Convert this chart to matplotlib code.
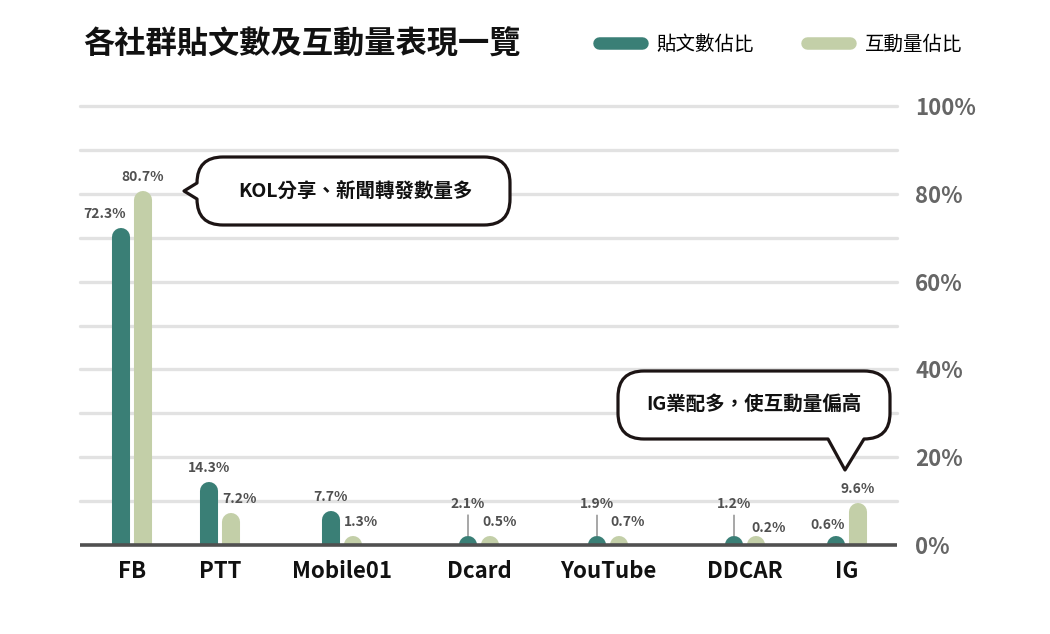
import matplotlib
matplotlib.use("Agg")
import matplotlib.pyplot as plt
from matplotlib.path import Path
from matplotlib.patches import PathPatch
from matplotlib.lines import Line2D

plt.rcParams['font.family'] = ['Noto Sans CJK TC', 'DejaVu Sans']

# data
platforms = ["FB", "PTT", "Mobile01", "Dcard", "YouTube", "DDCAR", "IG"]
post_share = [72.3, 14.3, 7.7, 2.1, 1.9, 1.2, 0.6]        # 貼文數佔比 (%)
engage_share = [80.7, 7.2, 1.3, 0.5, 0.7, 0.2, 9.6]       # 互動量佔比 (%)
series_names = ["貼文數佔比", "互動量佔比"]
title = "各社群貼文數及互動量表現一覽"
note_fb = "KOL分享、新聞轉發數量多"
note_ig = "IG業配多，使互動量偏高"

# layout (group centres are not evenly spaced in the original)
group_pos = [0.0, 0.88, 2.1, 3.47, 4.76, 6.13, 7.15]
pair_off = 0.11
dark = "#3a7f76"
light = "#c3cfa8"
px_per_pct = 4.39          # vertical pixels per 1 %
cap_r = 9 / px_per_pct     # round cap radius in % units

fig = plt.figure(figsize=(10.5, 6.34), dpi=100)
ax = fig.add_axes([80 / 1050, 89 / 634, 817 / 1050, 439 / 634])
ax.set_xlim(-0.52, 7.65)
ax.set_ylim(0, 100)

# grid + baseline
ax.hlines(range(10, 101, 10), -0.52, 7.65, colors="#e2e2e2", lw=2.4,
          capstyle="round", clip_on=False, zorder=1)
ax.hlines(0, -0.52, 7.65, colors="#505050", lw=2.6, clip_on=False, zorder=5)

# per-label offsets in points (dx, dy), leader line flag
dark_lbl = [(-12, 5, False), (0, 5, False), (0, 5, False), (0, 18, True),
            (0, 18, True), (0, 18, True), (-6, 3, False)]
light_lbl = [(0, 5, False), (6, 5, False), (6, 5, False), (7, 5, False),
             (6, 5, False), (9, 1, False), (0, 5, False)]

for vals, off, col, lbls in [(post_share, -pair_off, dark, dark_lbl),
                            (engage_share, pair_off, light, light_lbl)]:
    for x, v, (dx, dy, lead) in zip(group_pos, vals, lbls):
        xx = x + off
        ax.plot([xx, xx], [-1, max(v - cap_r, 0.05)], color=col, lw=13,
                solid_capstyle="round", zorder=3)
        top = max(v, cap_r)
        kw = dict(arrowprops=dict(arrowstyle="-", color="#777777", lw=0.9,
                                  shrinkA=1, shrinkB=0)) if lead else {}
        ax.annotate(f"{v}%", (xx, top), xytext=(dx, dy),
                    textcoords="offset points", ha="center", va="bottom",
                    fontsize=10, color="#505050", fontweight="bold",
                    zorder=6, **kw)

for s in ax.spines.values():
    s.set_visible(False)
ax.set_xticks(group_pos)
ax.set_xticklabels(platforms, fontsize=16, fontweight="bold", color="#111111")
ax.yaxis.tick_right()
ax.set_yticks(range(0, 101, 20))
ax.set_yticklabels([f"{t}%" for t in range(0, 101, 20)], fontsize=16,
                   fontweight="bold", color="#666666")
ax.tick_params(axis="x", length=0, pad=11)
ax.tick_params(axis="y", length=0, pad=13)
ax.patch.set_alpha(0)

# title and legend
fig.text(83 / 1050, 1 - 45 / 634, title, fontsize=22.5, fontweight="bold",
         va="center", ha="left", color="#111111")
handles = [Line2D([0], [0], color=dark, lw=9, solid_capstyle="round"),
           Line2D([0], [0], color=light, lw=9, solid_capstyle="round")]
fig.legend(handles, series_names, loc="center left",
           bbox_to_anchor=(599 / 1050, 1 - 44 / 634), ncol=2, frameon=False,
           fontsize=14, handlelength=2.2, handletextpad=0.77,
           columnspacing=2.73, borderpad=0, borderaxespad=0)

# speech bubbles drawn in pixel space
ov = fig.add_axes([0, 0, 1, 1], zorder=10)
ov.set_xlim(0, 1050)
ov.set_ylim(634, 0)
ov.axis("off")


def bubble(x0, y0, x1, y1, r, tip, side):
    M, L, C, Z = Path.MOVETO, Path.LINETO, Path.CURVE3, Path.CLOSEPOLY
    v = [(x0 + r, y0), (x1 - r, y0), (x1, y0), (x1, y0 + r),
         (x1, y1 - r), (x1, y1), (x1 - r, y1)]
    c = [M, L, C, C, L, C, C]
    if side == "bottom":
        v += [tip, (tip[0] - 17, y1)]
        c += [L, L]
    v += [(x0 + r, y1), (x0, y1), (x0, y1 - r)]
    c += [L, C, C]
    if side == "left":
        v += [tip]
        c += [L]
    v += [(x0, y0 + r), (x0, y0), (x0 + r, y0), (x0 + r, y0)]
    c += [L, C, C, Z]
    ov.add_patch(PathPatch(Path(v, c), facecolor="white", edgecolor="#1c1414",
                           lw=2.3, joinstyle="round"))


bubble(197, 157, 510, 225, 26, (184, 191), "left")
ov.text(355, 191, note_fb, ha="center", va="center", fontsize=14,
        fontweight="bold", color="#111111")
bubble(618, 371, 890, 439, 26, (845, 470), "bottom")
ov.text(754, 405, note_ig, ha="center", va="center", fontsize=14,
        fontweight="bold", color="#111111")

fig.savefig("out.png", dpi=100)
